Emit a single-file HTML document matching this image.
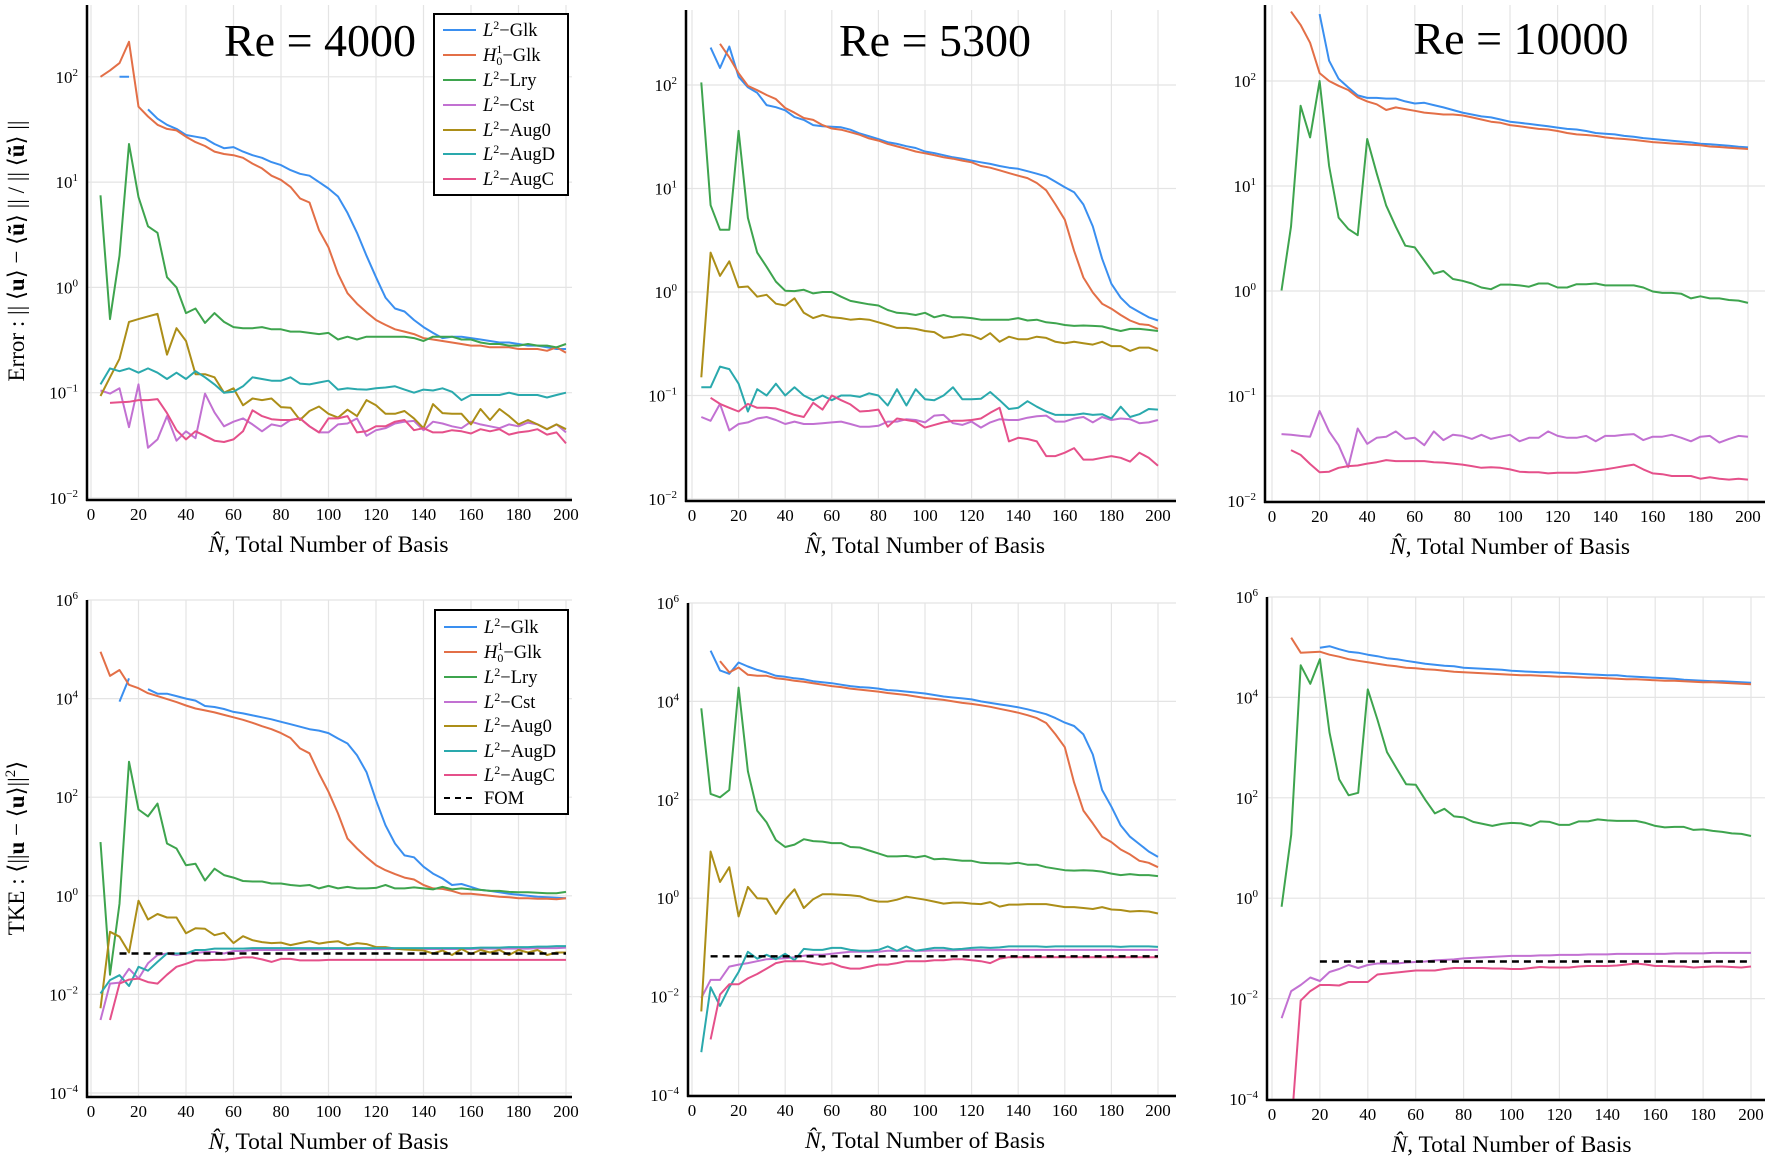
<!DOCTYPE html>
<html><head><meta charset="utf-8"><style>
html,body{margin:0;padding:0;background:#fff}
svg{display:block;font-family:"Liberation Serif",serif}
</style></head><body>
<svg id="fig" width="1772" height="1160" viewBox="0 0 1772 1160" xmlns="http://www.w3.org/2000/svg">
<rect width="1772" height="1160" fill="#fff"/>
<g id="layer"></g>
<text x="320" y="56" font-size="46" text-anchor="middle">Re = 4000</text>
<text x="935" y="56" font-size="46" text-anchor="middle">Re = 5300</text>
<text x="1521" y="54" font-size="46" text-anchor="middle">Re = 10000</text>
<text transform="translate(24,251) rotate(-90)" font-size="23" text-anchor="middle">Error : || ⟨<tspan font-weight="bold">u</tspan>⟩ − ⟨<tspan font-weight="bold">ũ</tspan>⟩ || / || ⟨<tspan font-weight="bold">ũ</tspan>⟩ ||</text>
<text transform="translate(24,848) rotate(-90)" font-size="23" text-anchor="middle">TKE : ⟨||<tspan font-weight="bold">u</tspan> − ⟨<tspan font-weight="bold">u</tspan>⟩||<tspan font-size="15" dy="-9">2</tspan><tspan dy="9">⟩</tspan></text>
<g font-size="18.5">
<rect x="434" y="14" width="134" height="181" fill="#fff" stroke="#000" stroke-width="2"/>
<line x1="443" y1="30" x2="476" y2="30" stroke="#3a8ff0" stroke-width="2"/><text x="483" y="36"><tspan font-style="italic">L</tspan><tspan font-size="12" dy="-7">2</tspan><tspan dy="7">−Glk</tspan></text>
<line x1="443" y1="55" x2="476" y2="55" stroke="#E36F47" stroke-width="2"/><text x="483" y="61"><tspan font-style="italic">H</tspan><tspan font-size="12" dy="-8">1</tspan><tspan font-size="12" dx="-6" dy="12">0</tspan><tspan dy="-4">−Glk</tspan></text>
<line x1="443" y1="80" x2="476" y2="80" stroke="#3EA44E" stroke-width="2"/><text x="483" y="86"><tspan font-style="italic">L</tspan><tspan font-size="12" dy="-7">2</tspan><tspan dy="7">−Lry</tspan></text>
<line x1="443" y1="105" x2="476" y2="105" stroke="#C271D2" stroke-width="2"/><text x="483" y="111"><tspan font-style="italic">L</tspan><tspan font-size="12" dy="-7">2</tspan><tspan dy="7">−Cst</tspan></text>
<line x1="443" y1="130" x2="476" y2="130" stroke="#AC8E18" stroke-width="2"/><text x="483" y="136"><tspan font-style="italic">L</tspan><tspan font-size="12" dy="-7">2</tspan><tspan dy="7">−Aug0</tspan></text>
<line x1="443" y1="154" x2="476" y2="154" stroke="#2AA9AD" stroke-width="2"/><text x="483" y="160"><tspan font-style="italic">L</tspan><tspan font-size="12" dy="-7">2</tspan><tspan dy="7">−AugD</tspan></text>
<line x1="443" y1="179" x2="476" y2="179" stroke="#E5508A" stroke-width="2"/><text x="483" y="185"><tspan font-style="italic">L</tspan><tspan font-size="12" dy="-7">2</tspan><tspan dy="7">−AugC</tspan></text>
</g>
<g font-size="18.5">
<rect x="435" y="610" width="133" height="204" fill="#fff" stroke="#000" stroke-width="2"/>
<line x1="444" y1="627" x2="477" y2="627" stroke="#3a8ff0" stroke-width="2"/><text x="484" y="633"><tspan font-style="italic">L</tspan><tspan font-size="12" dy="-7">2</tspan><tspan dy="7">−Glk</tspan></text>
<line x1="444" y1="652" x2="477" y2="652" stroke="#E36F47" stroke-width="2"/><text x="484" y="658"><tspan font-style="italic">H</tspan><tspan font-size="12" dy="-8">1</tspan><tspan font-size="12" dx="-6" dy="12">0</tspan><tspan dy="-4">−Glk</tspan></text>
<line x1="444" y1="677" x2="477" y2="677" stroke="#3EA44E" stroke-width="2"/><text x="484" y="683"><tspan font-style="italic">L</tspan><tspan font-size="12" dy="-7">2</tspan><tspan dy="7">−Lry</tspan></text>
<line x1="444" y1="702" x2="477" y2="702" stroke="#C271D2" stroke-width="2"/><text x="484" y="708"><tspan font-style="italic">L</tspan><tspan font-size="12" dy="-7">2</tspan><tspan dy="7">−Cst</tspan></text>
<line x1="444" y1="726" x2="477" y2="726" stroke="#AC8E18" stroke-width="2"/><text x="484" y="732"><tspan font-style="italic">L</tspan><tspan font-size="12" dy="-7">2</tspan><tspan dy="7">−Aug0</tspan></text>
<line x1="444" y1="751" x2="477" y2="751" stroke="#2AA9AD" stroke-width="2"/><text x="484" y="757"><tspan font-style="italic">L</tspan><tspan font-size="12" dy="-7">2</tspan><tspan dy="7">−AugD</tspan></text>
<line x1="444" y1="775" x2="477" y2="775" stroke="#E5508A" stroke-width="2"/><text x="484" y="781"><tspan font-style="italic">L</tspan><tspan font-size="12" dy="-7">2</tspan><tspan dy="7">−AugC</tspan></text>
<line x1="444" y1="798" x2="477" y2="798" stroke="#000" stroke-width="2" stroke-dasharray="6,5"/><text x="484" y="804">FOM</text>
</g>
</svg>
<script>
const NS="http://www.w3.org/2000/svg";
const N=[4,8,12,16,20,24,28,32,36,40,44,48,52,56,60,64,68,72,76,80,84,88,92,96,100,104,108,112,116,120,124,128,132,136,140,144,148,152,156,160,164,168,172,176,180,184,188,192,196,200];
const xTicks=[0,20,40,60,80,100,120,140,160,180,200];
const topYTicks=[-2,-1,0,1,2];
const botYTicks=[-4,-2,0,2,4,6];

// ---- Error, Re=4000 (values) ----
const t1_glk=[null,null,100,100,null,49,40,35,32,28,27,26,23,21,21.5,19.5,18,17,15.5,14.5,13,12,11.5,10,8.7,7.3,5.1,3.3,2.0,1.25,0.8,0.63,0.59,0.49,0.42,0.37,0.33,0.34,0.34,0.33,0.32,0.31,0.30,0.30,0.29,0.28,0.28,0.27,0.26,0.26];
const t1_h1=[100,115,135,215,52,42,35,32,31,27,24,22,19.5,18.5,18,17,15,13.5,11.5,10.5,9,7,6.4,3.5,2.4,1.35,0.88,0.7,0.58,0.49,0.44,0.40,0.38,0.36,0.33,0.32,0.31,0.30,0.29,0.28,0.28,0.27,0.27,0.27,0.26,0.26,0.26,0.25,0.27,0.24];
const t1_lry=[7.5,0.5,2,23,7.2,3.8,3.3,1.25,1.0,0.57,0.63,0.46,0.57,0.47,0.42,0.41,0.41,0.42,0.40,0.40,0.38,0.38,0.37,0.36,0.37,0.32,0.34,0.32,0.34,0.34,0.34,0.34,0.34,0.33,0.31,0.34,0.34,0.34,0.32,0.32,0.30,0.29,0.29,0.28,0.28,0.29,0.28,0.28,0.27,0.29];
const t1_cst=[0.105,0.098,0.11,0.047,0.12,0.03,0.036,0.06,0.035,0.043,0.037,0.098,0.065,0.048,0.053,0.057,0.05,0.043,0.05,0.048,0.055,0.057,0.048,0.042,0.042,0.05,0.051,0.057,0.039,0.044,0.046,0.051,0.053,0.054,0.044,0.053,0.051,0.048,0.046,0.053,0.05,0.048,0.046,0.05,0.048,0.052,0.05,0.045,0.05,0.042];
const t1_aug0=[0.093,0.14,0.21,0.47,0.5,0.53,0.56,0.23,0.41,0.31,0.15,0.15,0.14,0.1,0.11,0.076,0.088,0.085,0.088,0.073,0.072,0.055,0.067,0.074,0.063,0.058,0.069,0.06,0.085,0.076,0.063,0.063,0.067,0.057,0.046,0.078,0.064,0.063,0.063,0.05,0.07,0.055,0.07,0.06,0.05,0.055,0.05,0.045,0.05,0.045];
const t1_augd=[0.12,0.17,0.16,0.17,0.155,0.17,0.155,0.135,0.155,0.135,0.16,0.14,0.12,0.1,0.102,0.115,0.14,0.135,0.13,0.13,0.14,0.122,0.12,0.125,0.13,0.107,0.11,0.108,0.107,0.11,0.112,0.115,0.107,0.1,0.107,0.105,0.11,0.102,0.085,0.095,0.095,0.095,0.095,0.1,0.095,0.095,0.095,0.09,0.095,0.1];
const t1_augc=[null,0.08,0.081,0.082,0.085,0.085,0.087,0.064,0.044,0.036,0.043,0.039,0.035,0.034,0.036,0.043,0.068,0.060,0.056,0.055,0.055,0.057,0.048,0.042,0.057,0.057,0.06,0.042,0.043,0.048,0.048,0.053,0.055,0.044,0.046,0.042,0.042,0.044,0.043,0.041,0.045,0.043,0.045,0.04,0.042,0.043,0.045,0.04,0.042,0.033];

// ---- Error, Re=5300 ----
const t2_glk=[null,230,146,235,120,95,84,64,61,57,49,46,41,40,39.5,39,37,34,32,30,28,27,25.6,24.6,22.8,22,21,20,19.4,18.6,17.9,17.3,16.5,15.9,15.5,14.7,13.9,13.1,11.6,10.3,9.2,7.0,4.3,2.1,1.2,0.88,0.72,0.64,0.57,0.53];
const t2_h1=[null,null,250,185,130,98,89,80,73,60,54,48,46,41,38,37,35,33,30.5,29,27,25.5,24.2,22.8,21.9,21,20,19.4,18.6,17.9,16.5,15.9,15,14.1,13.3,12.6,11.3,9.6,7.0,5.0,2.5,1.38,0.99,0.77,0.69,0.6,0.53,0.49,0.48,0.44];
const t2_lry=[106,6.9,4.0,4.0,36,5.2,2.4,1.75,1.26,1.03,1.02,1.05,0.97,1.0,1.0,0.9,0.82,0.79,0.76,0.74,0.67,0.63,0.62,0.6,0.63,0.57,0.6,0.57,0.57,0.56,0.54,0.54,0.54,0.54,0.56,0.53,0.54,0.51,0.5,0.48,0.47,0.475,0.47,0.465,0.44,0.42,0.44,0.44,0.43,0.42];
const t2_cst=[0.062,0.057,0.083,0.046,0.053,0.055,0.06,0.062,0.058,0.053,0.056,0.053,0.053,0.054,0.055,0.056,0.053,0.05,0.05,0.051,0.056,0.056,0.059,0.058,0.055,0.064,0.065,0.054,0.052,0.056,0.049,0.055,0.059,0.058,0.058,0.061,0.063,0.064,0.056,0.056,0.06,0.062,0.055,0.062,0.058,0.06,0.059,0.054,0.055,0.058];
const t2_aug0=[0.15,2.4,1.43,1.98,1.11,1.13,0.9,0.94,0.77,0.74,0.87,0.63,0.56,0.6,0.57,0.56,0.54,0.55,0.54,0.51,0.48,0.45,0.45,0.44,0.42,0.41,0.36,0.37,0.39,0.38,0.35,0.4,0.33,0.37,0.35,0.35,0.37,0.36,0.33,0.32,0.33,0.32,0.31,0.33,0.3,0.3,0.27,0.29,0.29,0.27];
const t2_augd=[0.12,0.12,0.19,0.18,0.13,0.07,0.115,0.10,0.13,0.10,0.12,0.10,0.09,0.10,0.09,0.10,0.10,0.097,0.105,0.10,0.08,0.115,0.08,0.115,0.092,0.09,0.10,0.12,0.092,0.092,0.093,0.108,0.09,0.074,0.076,0.088,0.078,0.07,0.065,0.065,0.065,0.067,0.065,0.066,0.06,0.078,0.062,0.066,0.074,0.073];
const t2_augc=[null,0.095,0.083,0.076,0.07,0.083,0.076,0.076,0.075,0.07,0.065,0.062,0.085,0.073,0.1,0.09,0.082,0.07,0.071,0.073,0.05,0.06,0.058,0.056,0.049,0.052,0.055,0.057,0.057,0.058,0.06,0.068,0.076,0.036,0.039,0.038,0.036,0.026,0.026,0.028,0.031,0.024,0.024,0.025,0.026,0.025,0.023,0.028,0.025,0.021];

// ---- Error, Re=10000 ----
const t3_glk=[null,null,null,null,434,156,105,87,73,69,69,68,68,64,61,62,59,56,53,50,48,46,45,43,41,40,39,38,37,36,35,34.5,33.4,32,31.5,31,30,29.5,28.6,28,27.5,27,26.5,26,25.3,25,24.6,24.2,23.7,23.3];
const t3_h1=[null,458,342,231,119,100,90,82,70,64,60,53,56,54,52,50,49,48,48,47,45,43,41,40,38,37,36,35,34.5,33.4,32,31,30.6,30,29,28.4,28,27.5,26.8,26.2,25.8,25.4,25.1,24.7,24.4,23.8,23.5,23.1,22.8,22.5];
const t3_lry=[1.01,4.1,58,29,100,15.5,5.0,3.9,3.4,28,13.2,6.5,4.1,2.7,2.6,1.95,1.46,1.55,1.3,1.25,1.18,1.08,1.04,1.15,1.15,1.13,1.1,1.18,1.18,1.08,1.08,1.16,1.16,1.18,1.13,1.13,1.13,1.13,1.08,0.99,0.96,0.96,0.94,0.85,0.89,0.85,0.85,0.82,0.81,0.77];
const t3_cst=[0.0434,0.0427,0.0417,0.041,0.072,0.046,0.034,0.021,0.049,0.035,0.04,0.041,0.046,0.039,0.04,0.034,0.046,0.038,0.0427,0.0417,0.039,0.0427,0.039,0.041,0.0427,0.037,0.04,0.04,0.046,0.0417,0.04,0.04,0.0417,0.037,0.0417,0.0417,0.0427,0.0434,0.038,0.041,0.041,0.0427,0.04,0.037,0.041,0.0417,0.036,0.039,0.0417,0.041];
const t3_augc=[null,0.0305,0.0275,0.0225,0.0188,0.019,0.0207,0.0215,0.0218,0.0227,0.0234,0.0245,0.024,0.024,0.024,0.024,0.0234,0.0232,0.0227,0.0222,0.0215,0.0207,0.021,0.0207,0.02,0.019,0.0188,0.0188,0.0183,0.0186,0.0186,0.0186,0.019,0.0195,0.02,0.0207,0.0215,0.0222,0.02,0.0183,0.018,0.0173,0.0173,0.0173,0.0163,0.0168,0.0163,0.016,0.0163,0.016];

// ---- TKE (log10 exponents), Re=4000 ----
const b1_glk=[null,null,3.94,4.41,null,4.19,4.1,4.1,4.05,4.0,3.96,3.85,3.83,3.79,3.73,3.7,3.66,3.62,3.58,3.53,3.48,3.43,3.38,3.35,3.3,3.19,3.09,2.85,2.51,1.94,1.43,1.06,0.82,0.78,0.59,0.45,0.35,0.22,0.24,0.18,0.12,0.1,0.07,0.04,0.02,0.0,-0.02,-0.03,-0.04,-0.05];
const b1_h1=[4.95,4.46,4.58,4.28,4.21,4.11,4.05,3.99,3.93,3.86,3.8,3.76,3.72,3.67,3.62,3.57,3.51,3.44,3.38,3.3,3.2,2.99,2.89,2.48,2.11,1.67,1.16,0.96,0.78,0.62,0.52,0.44,0.37,0.33,0.22,0.15,0.14,0.1,0.04,0.04,0.02,0.0,-0.02,-0.03,-0.05,-0.05,-0.06,-0.06,-0.07,-0.05];
const b1_lry=[1.09,-1.6,-0.16,2.72,1.75,1.61,1.87,1.06,0.96,0.62,0.65,0.31,0.55,0.42,0.37,0.3,0.29,0.29,0.25,0.25,0.22,0.2,0.22,0.15,0.2,0.15,0.18,0.15,0.15,0.16,0.22,0.15,0.15,0.17,0.15,0.13,0.18,0.13,0.15,0.13,0.12,0.1,0.1,0.08,0.07,0.07,0.06,0.05,0.05,0.08];
const b1_cst=[-2.52,-1.78,-1.76,-1.48,-1.68,-1.37,-1.2,-1.17,-1.2,-1.17,-1.16,-1.14,-1.14,-1.17,-1.12,-1.12,-1.1,-1.1,-1.1,-1.1,-1.1,-1.09,-1.09,-1.09,-1.08,-1.08,-1.08,-1.08,-1.08,-1.08,-1.08,-1.08,-1.08,-1.08,-1.08,-1.08,-1.08,-1.08,-1.08,-1.08,-1.07,-1.07,-1.07,-1.07,-1.07,-1.07,-1.06,-1.06,-1.06,-1.05];
const b1_aug0=[-2.28,-0.73,-0.83,-1.15,-0.1,-0.48,-0.37,-0.44,-0.44,-0.76,-0.66,-0.67,-0.8,-0.75,-0.96,-0.82,-0.9,-0.94,-0.96,-0.95,-1.0,-0.96,-0.92,-0.97,-0.94,-0.92,-1.0,-0.96,-0.98,-1.04,-1.04,-1.07,-1.09,-1.1,-1.11,-1.17,-1.11,-1.2,-1.08,-1.18,-1.1,-1.15,-1.1,-1.2,-1.1,-1.15,-1.1,-1.2,-1.15,-1.15];
const b1_augd=[-1.98,-1.71,-1.61,-1.83,-1.44,-1.52,-1.34,-1.17,-1.17,-1.17,-1.1,-1.1,-1.07,-1.07,-1.07,-1.07,-1.06,-1.06,-1.06,-1.06,-1.06,-1.06,-1.06,-1.06,-1.06,-1.06,-1.06,-1.06,-1.06,-1.06,-1.06,-1.06,-1.06,-1.06,-1.06,-1.06,-1.06,-1.06,-1.06,-1.06,-1.05,-1.05,-1.05,-1.04,-1.04,-1.04,-1.03,-1.03,-1.02,-1.02];
const b1_augc=[null,-2.52,-1.78,-1.7,-1.68,-1.75,-1.78,-1.6,-1.44,-1.38,-1.31,-1.31,-1.3,-1.3,-1.28,-1.25,-1.25,-1.29,-1.34,-1.28,-1.28,-1.31,-1.31,-1.31,-1.3,-1.3,-1.3,-1.3,-1.3,-1.3,-1.3,-1.3,-1.3,-1.3,-1.3,-1.3,-1.3,-1.3,-1.3,-1.3,-1.3,-1.3,-1.3,-1.3,-1.3,-1.3,-1.3,-1.3,-1.3,-1.3];
const b1_fom=[null,null,-1.17,-1.17,-1.17,-1.17,-1.17,-1.17,-1.17,-1.17,-1.17,-1.17,-1.17,-1.17,-1.17,-1.17,-1.17,-1.17,-1.17,-1.17,-1.17,-1.17,-1.17,-1.17,-1.17,-1.17,-1.17,-1.17,-1.17,-1.17,-1.17,-1.17,-1.17,-1.17,-1.17,-1.17,-1.17,-1.17,-1.17,-1.17,-1.17,-1.17,-1.17,-1.17,-1.17,-1.17,-1.17,-1.17,-1.17,-1.17];

// ---- TKE (log10 exponents), Re=5300 ----
const b2_glk=[null,5.03,4.63,4.56,4.79,4.71,4.64,4.59,4.52,4.5,4.47,4.45,4.41,4.39,4.37,4.34,4.31,4.29,4.28,4.26,4.23,4.22,4.2,4.18,4.16,4.13,4.1,4.08,4.06,4.04,4.0,3.97,3.94,3.91,3.88,3.84,3.79,3.74,3.66,3.57,3.5,3.33,2.92,2.2,1.86,1.48,1.25,1.1,0.95,0.84];
const b2_h1=[null,null,4.82,4.59,4.69,4.54,4.52,4.52,4.47,4.45,4.42,4.4,4.37,4.34,4.31,4.29,4.26,4.24,4.22,4.2,4.17,4.15,4.13,4.1,4.07,4.05,4.03,4.0,3.97,3.95,3.92,3.89,3.85,3.81,3.77,3.72,3.66,3.56,3.33,3.07,2.35,1.78,1.52,1.25,1.14,0.99,0.89,0.76,0.72,0.63];
const b2_lry=[3.86,2.12,2.05,2.2,4.28,2.58,1.78,1.54,1.18,1.04,1.09,1.2,1.16,1.15,1.12,1.12,1.04,1.03,0.97,0.91,0.85,0.85,0.86,0.83,0.86,0.79,0.8,0.78,0.76,0.76,0.72,0.71,0.71,0.7,0.72,0.68,0.68,0.63,0.6,0.57,0.56,0.57,0.56,0.54,0.5,0.47,0.49,0.47,0.47,0.45];
const b2_cst=[-2.03,-1.66,-1.66,-1.39,-1.35,-1.32,-1.28,-1.24,-1.23,-1.22,-1.2,-1.17,-1.15,-1.15,-1.13,-1.11,-1.09,-1.09,-1.09,-1.09,-1.07,-1.07,-1.07,-1.07,-1.07,-1.06,-1.06,-1.06,-1.05,-1.05,-1.05,-1.05,-1.05,-1.05,-1.05,-1.05,-1.05,-1.05,-1.05,-1.05,-1.05,-1.05,-1.05,-1.05,-1.05,-1.05,-1.05,-1.05,-1.05,-1.05];
const b2_aug0=[-2.3,0.95,0.33,0.63,-0.37,0.23,0.0,-0.01,-0.32,-0.03,0.18,-0.2,-0.02,0.08,0.08,0.07,0.06,0.04,-0.03,-0.07,-0.07,-0.03,0.03,0.0,-0.03,-0.07,-0.11,-0.09,-0.09,-0.11,-0.12,-0.08,-0.17,-0.13,-0.13,-0.12,-0.12,-0.12,-0.15,-0.18,-0.18,-0.2,-0.22,-0.18,-0.23,-0.24,-0.27,-0.26,-0.27,-0.31];
const b2_augd=[-3.13,-1.81,-2.19,-1.81,-1.5,-1.09,-1.23,-1.15,-1.24,-1.13,-1.26,-1.03,-1.05,-1.05,-1.01,-1.01,-1.05,-1.07,-1.07,-1.05,-0.98,-1.07,-0.98,-1.07,-1.04,-1.01,-1.01,-1.04,-1.03,-1.01,-1.0,-1.01,-1.0,-0.98,-0.98,-0.98,-0.98,-0.99,-0.98,-0.98,-0.98,-0.98,-0.98,-0.98,-0.98,-0.99,-0.98,-0.98,-0.98,-0.99];
const b2_augc=[null,-2.87,-1.96,-1.75,-1.75,-1.63,-1.54,-1.43,-1.32,-1.28,-1.28,-1.28,-1.32,-1.35,-1.32,-1.39,-1.43,-1.43,-1.39,-1.35,-1.35,-1.32,-1.28,-1.28,-1.28,-1.26,-1.26,-1.24,-1.24,-1.26,-1.28,-1.32,-1.23,-1.2,-1.2,-1.2,-1.2,-1.2,-1.2,-1.2,-1.2,-1.2,-1.2,-1.2,-1.2,-1.2,-1.2,-1.2,-1.2,-1.2];
const b2_fom=[null,-1.18,-1.18,-1.18,-1.18,-1.18,-1.18,-1.18,-1.18,-1.18,-1.18,-1.18,-1.18,-1.18,-1.18,-1.18,-1.18,-1.18,-1.18,-1.18,-1.18,-1.18,-1.18,-1.18,-1.18,-1.18,-1.18,-1.18,-1.18,-1.18,-1.18,-1.18,-1.18,-1.18,-1.18,-1.18,-1.18,-1.18,-1.18,-1.18,-1.18,-1.18,-1.18,-1.18,-1.18,-1.18,-1.18,-1.18,-1.18,-1.18];

// ---- TKE (log10 exponents), Re=10000 ----
const b3_glk=[null,null,null,null,4.99,5.02,4.96,4.91,4.89,4.85,4.82,4.78,4.76,4.73,4.7,4.67,4.65,4.63,4.62,4.59,4.58,4.57,4.56,4.55,4.53,4.52,4.51,4.5,4.5,4.49,4.48,4.47,4.46,4.45,4.44,4.44,4.42,4.41,4.4,4.39,4.38,4.37,4.35,4.34,4.33,4.32,4.32,4.31,4.3,4.29];
const b3_h1=[null,5.19,4.89,4.9,4.91,4.85,4.81,4.76,4.73,4.7,4.67,4.64,4.62,4.59,4.58,4.56,4.55,4.53,4.51,4.5,4.49,4.48,4.47,4.46,4.45,4.44,4.44,4.43,4.42,4.41,4.41,4.4,4.39,4.39,4.38,4.37,4.36,4.36,4.35,4.34,4.33,4.33,4.32,4.31,4.3,4.3,4.29,4.28,4.27,4.26];
const b3_lry=[-0.17,1.26,4.64,4.27,4.76,3.3,2.37,2.05,2.1,4.16,3.56,2.91,2.59,2.27,2.26,1.96,1.69,1.78,1.63,1.61,1.52,1.48,1.44,1.48,1.5,1.49,1.44,1.53,1.52,1.46,1.46,1.53,1.53,1.57,1.55,1.54,1.54,1.54,1.5,1.44,1.41,1.42,1.42,1.36,1.37,1.34,1.32,1.29,1.28,1.24];
const b3_cst=[-2.39,-1.85,-1.73,-1.58,-1.65,-1.47,-1.41,-1.33,-1.39,-1.33,-1.3,-1.3,-1.3,-1.28,-1.27,-1.26,-1.24,-1.23,-1.22,-1.2,-1.19,-1.18,-1.17,-1.16,-1.15,-1.15,-1.15,-1.14,-1.14,-1.13,-1.13,-1.13,-1.12,-1.12,-1.12,-1.11,-1.11,-1.11,-1.11,-1.11,-1.11,-1.1,-1.1,-1.1,-1.1,-1.09,-1.09,-1.09,-1.09,-1.09];
const b3_augc=[null,-4.6,-2.04,-1.85,-1.73,-1.73,-1.74,-1.67,-1.67,-1.67,-1.52,-1.5,-1.48,-1.46,-1.44,-1.44,-1.44,-1.41,-1.39,-1.39,-1.39,-1.39,-1.4,-1.4,-1.41,-1.41,-1.39,-1.37,-1.38,-1.38,-1.38,-1.36,-1.35,-1.35,-1.35,-1.34,-1.32,-1.3,-1.32,-1.35,-1.35,-1.36,-1.36,-1.38,-1.37,-1.36,-1.36,-1.37,-1.38,-1.36];
const b3_fom=[null,null,null,null,-1.26,-1.26,-1.26,-1.26,-1.26,-1.26,-1.26,-1.26,-1.26,-1.26,-1.26,-1.26,-1.26,-1.26,-1.26,-1.26,-1.26,-1.26,-1.26,-1.26,-1.26,-1.26,-1.26,-1.26,-1.26,-1.26,-1.26,-1.26,-1.26,-1.26,-1.26,-1.26,-1.26,-1.26,-1.26,-1.26,-1.26,-1.26,-1.26,-1.26,-1.26,-1.26,-1.26,-1.26,-1.26,-1.26];

const C={glk:"#3a8ff0",h1:"#E36F47",lry:"#3EA44E",cst:"#C271D2",aug0:"#AC8E18",augd:"#2AA9AD",augc:"#E5508A",fom:"#000"};

const layer=document.getElementById('layer');
function mk(tag,parent){const e=document.createElementNS(NS,tag);parent.appendChild(e);return e;}

function panel(id,g,yTicks,series){
  const grp=mk('g',layer);
  
  
  const xs=v=>g.x0+(v/200)*(g.x200-g.x0);
  const ys=e=>g.yRef-(e-g.refExp)*g.dec;
  xTicks.forEach(t=>{
    const l=mk('line',grp);
    
    
    l.setAttribute('x1',xs(t));l.setAttribute('x2',xs(t));l.setAttribute('y1',g.top);l.setAttribute('y2',g.ay);
    l.setAttribute('stroke','#e4e4e4');l.setAttribute('stroke-width','1.2');
    const tx=mk('text',grp);
    
    
    tx.setAttribute('x',xs(t));tx.setAttribute('y',g.ay+20);tx.setAttribute('font-size','17');tx.setAttribute('text-anchor','middle');
    tx.textContent=String(t);
  });
  yTicks.forEach(t=>{
    const l=mk('line',grp);
    
    
    l.setAttribute('x1',g.ax);l.setAttribute('x2',g.right);l.setAttribute('y1',ys(t));l.setAttribute('y2',ys(t));
    l.setAttribute('stroke','#e4e4e4');l.setAttribute('stroke-width','1.2');
    const tx=mk('text',grp);
    
    
    tx.setAttribute('x',g.ax-9);tx.setAttribute('y',ys(t)+6);tx.setAttribute('font-size','17');tx.setAttribute('text-anchor','end');
    const a=mk('tspan',tx);a.textContent='10';
    const b=mk('tspan',tx);b.setAttribute('font-size','11');b.setAttribute('dy','-7');b.textContent=(t<0?'−'+(-t):String(t));
  });
  const cp=mk('clipPath',grp);const cid='clip-'+id;cp.setAttribute('id',cid);
  const cr=mk('rect',cp);cr.setAttribute('x',g.ax);cr.setAttribute('y',g.top-3);cr.setAttribute('width',g.right-g.ax);cr.setAttribute('height',g.ay-g.top+3);
  series.forEach(s=>{
    let d='',pen=false;
    s.vals.forEach((v,i)=>{
      if(v===null||v===undefined){pen=false;return;}
      const e=s.log?v:Math.log10(v);
      d+=(pen?'L':'M')+xs(N[i]).toFixed(1)+','+ys(e).toFixed(1);pen=true;
    });
    const p=mk('path',grp);
    
    
    p.setAttribute('d',d);p.setAttribute('fill','none');p.setAttribute('stroke',C[s.c]);
    p.setAttribute('stroke-width','2');p.setAttribute('stroke-linejoin','round');
    p.setAttribute('clip-path','url(#'+cid+')');
    if(s.c==='fom'){p.setAttribute('stroke-dasharray','7,5');p.setAttribute('stroke-width','2.4');}
  });
  const ya=mk('line',grp);
  
  
  ya.setAttribute('x1',g.ax);ya.setAttribute('x2',g.ax);ya.setAttribute('y1',g.top);ya.setAttribute('y2',g.ay+1);ya.setAttribute('stroke','#000');ya.setAttribute('stroke-width','2.5');
  const xa=mk('line',grp);
  
  
  xa.setAttribute('x1',g.ax-1);xa.setAttribute('x2',g.right);xa.setAttribute('y1',g.ay);xa.setAttribute('y2',g.ay);xa.setAttribute('stroke','#000');xa.setAttribute('stroke-width','2.5');
  const xt=mk('text',grp);
  
  
  xt.setAttribute('x',(g.x0+g.x200)/2);xt.setAttribute('y',g.ay+52);xt.setAttribute('font-size','23.5');xt.setAttribute('text-anchor','middle');
  const n=mk('tspan',xt);n.setAttribute('font-style','italic');n.textContent='N̂';
  const r=mk('tspan',xt);r.textContent=',  Total Number of Basis';
}

panel('panel-error-re4000',{x0:91,x200:566,ax:87,ay:500,yRef:498,refExp:-2,dec:105.3,top:5,right:572},topYTicks,[
 {name:'line-l2-glk',c:'glk',vals:t1_glk},{name:'line-h1-glk',c:'h1',vals:t1_h1},{name:'line-l2-lry',c:'lry',vals:t1_lry},
 {name:'line-l2-cst',c:'cst',vals:t1_cst},{name:'line-l2-aug0',c:'aug0',vals:t1_aug0},{name:'line-l2-augd',c:'augd',vals:t1_augd},{name:'line-l2-augc',c:'augc',vals:t1_augc}]);
panel('panel-error-re5300',{x0:692,x200:1158,ax:686,ay:501,yRef:499,refExp:-2,dec:103.5,top:10,right:1176},topYTicks,[
 {name:'line-l2-glk',c:'glk',vals:t2_glk},{name:'line-h1-glk',c:'h1',vals:t2_h1},{name:'line-l2-lry',c:'lry',vals:t2_lry},
 {name:'line-l2-cst',c:'cst',vals:t2_cst},{name:'line-l2-aug0',c:'aug0',vals:t2_aug0},{name:'line-l2-augd',c:'augd',vals:t2_augd},{name:'line-l2-augc',c:'augc',vals:t2_augc}]);
panel('panel-error-re10000',{x0:1272,x200:1748,ax:1265,ay:502,yRef:501,refExp:-2,dec:105,top:5,right:1765},topYTicks,[
 {name:'line-l2-glk',c:'glk',vals:t3_glk},{name:'line-h1-glk',c:'h1',vals:t3_h1},{name:'line-l2-lry',c:'lry',vals:t3_lry},
 {name:'line-l2-cst',c:'cst',vals:t3_cst},{name:'line-l2-augc',c:'augc',vals:t3_augc}]);
panel('panel-tke-re4000',{x0:91,x200:566,ax:87,ay:1097,yRef:1093,refExp:-4,dec:49.3,top:600,right:572},botYTicks,[
 {name:'line-l2-glk',c:'glk',vals:b1_glk,log:1},{name:'line-h1-glk',c:'h1',vals:b1_h1,log:1},{name:'line-l2-lry',c:'lry',vals:b1_lry,log:1},
 {name:'line-l2-cst',c:'cst',vals:b1_cst,log:1},{name:'line-l2-aug0',c:'aug0',vals:b1_aug0,log:1},{name:'line-l2-augd',c:'augd',vals:b1_augd,log:1},{name:'line-l2-augc',c:'augc',vals:b1_augc,log:1},{name:'line-fom',c:'fom',vals:b1_fom,log:1}]);
panel('panel-tke-re5300',{x0:692,x200:1158,ax:688,ay:1096,yRef:1095,refExp:-4,dec:49.2,top:603,right:1176},botYTicks,[
 {name:'line-l2-glk',c:'glk',vals:b2_glk,log:1},{name:'line-h1-glk',c:'h1',vals:b2_h1,log:1},{name:'line-l2-lry',c:'lry',vals:b2_lry,log:1},
 {name:'line-l2-cst',c:'cst',vals:b2_cst,log:1},{name:'line-l2-aug0',c:'aug0',vals:b2_aug0,log:1},{name:'line-l2-augd',c:'augd',vals:b2_augd,log:1},{name:'line-l2-augc',c:'augc',vals:b2_augc,log:1},{name:'line-fom',c:'fom',vals:b2_fom,log:1}]);
panel('panel-tke-re10000',{x0:1272,x200:1751,ax:1267,ay:1100,yRef:1099,refExp:-4,dec:50.2,top:597,right:1765},botYTicks,[
 {name:'line-l2-glk',c:'glk',vals:b3_glk,log:1},{name:'line-h1-glk',c:'h1',vals:b3_h1,log:1},{name:'line-l2-lry',c:'lry',vals:b3_lry,log:1},
 {name:'line-l2-cst',c:'cst',vals:b3_cst,log:1},{name:'line-l2-augc',c:'augc',vals:b3_augc,log:1},{name:'line-fom',c:'fom',vals:b3_fom,log:1}]);
</script>
</body></html>
